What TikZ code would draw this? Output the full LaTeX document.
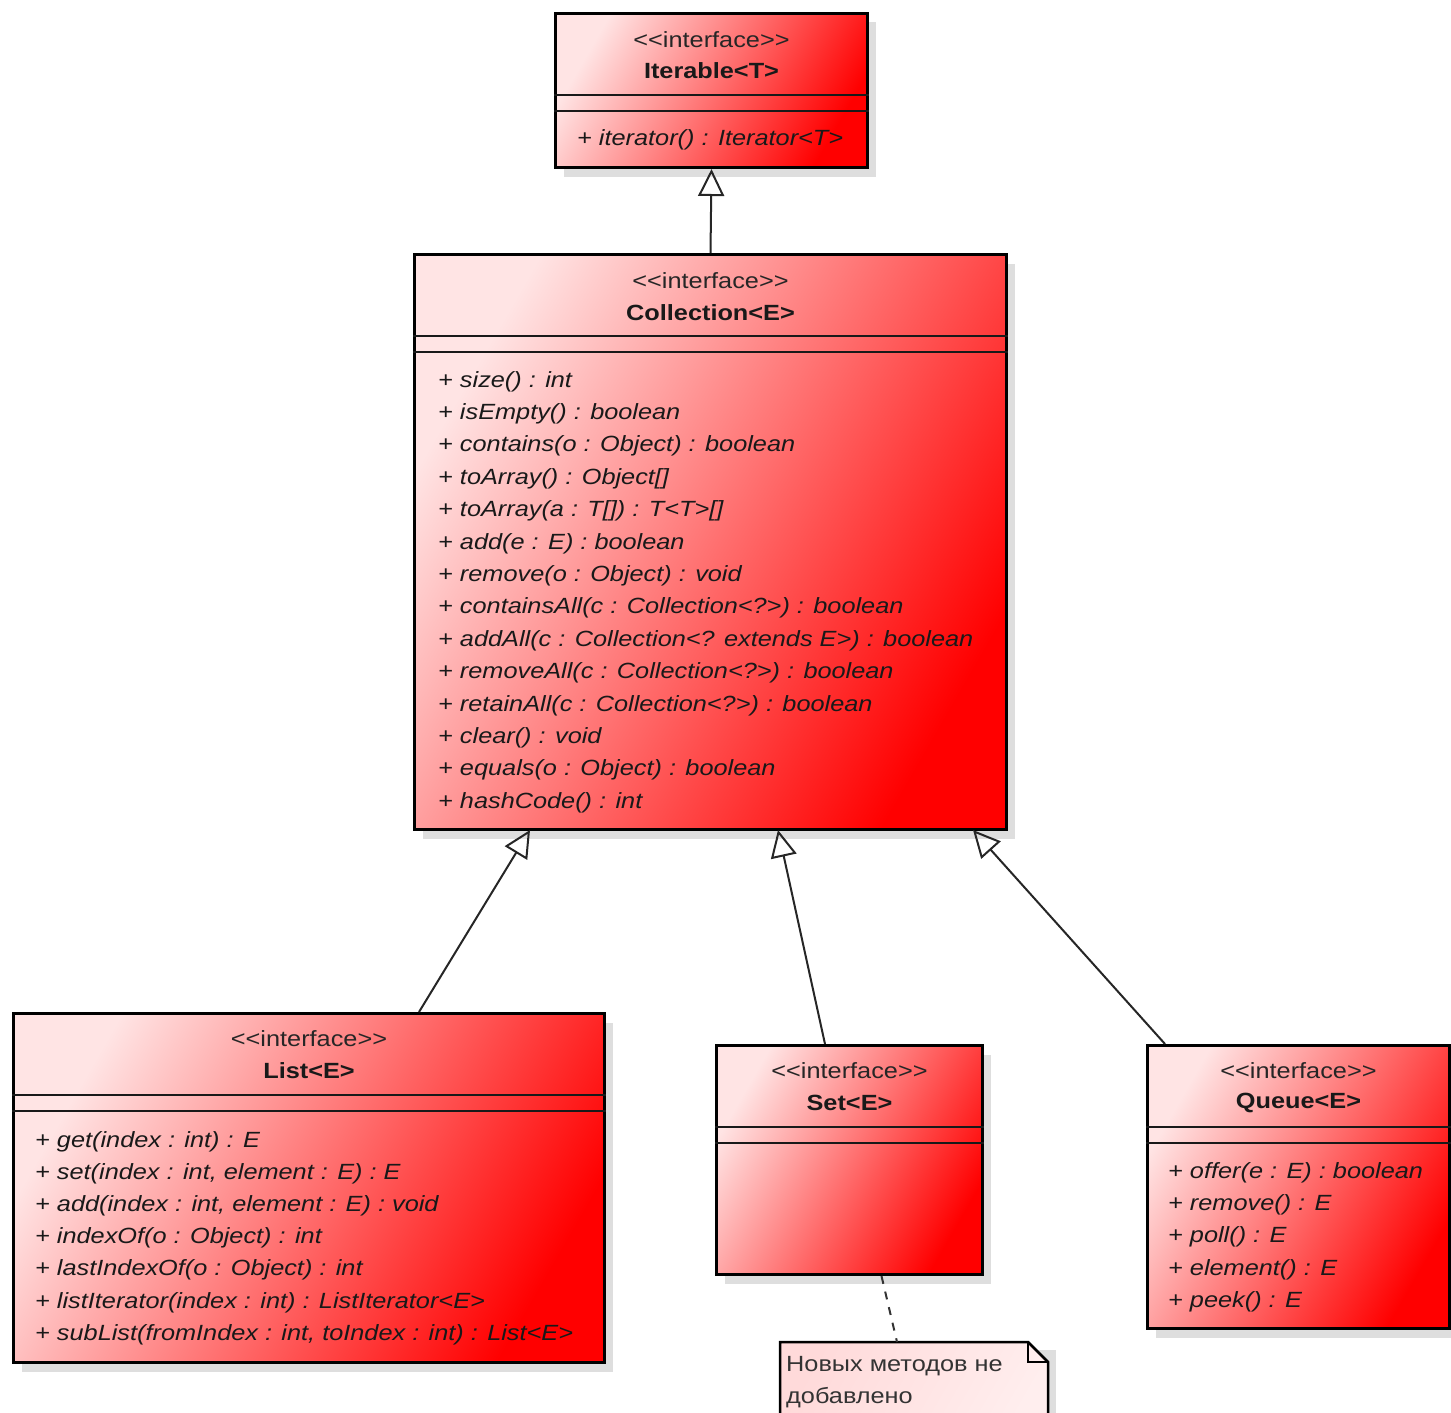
\documentclass[tikz,border=0pt]{standalone}
\usepackage{fontspec}
\setmainfont[FakeStretch=1.15, Ligatures=TeXOff]{Liberation Sans}
\usetikzlibrary{arrows.meta,shadows,calc}
\definecolor{boxlight}{RGB}{255,228,228}
\definecolor{boxmid}{RGB}{250,96,96}
\definecolor{boxred}{RGB}{255,0,0}
\definecolor{notelight}{RGB}{255,218,218}
\definecolor{notepale}{RGB}{255,238,238}
\begin{document}
\begin{tikzpicture}[x=1pt,y=-1pt,
  umlbox/.style={rectangle, draw=black, line width=3pt, inner sep=0pt, anchor=north west,
    left color=boxlight, middle color=boxmid, right color=boxred, shading angle=60,
    drop shadow={shadow xshift=8pt, shadow yshift=-9pt, fill=black!13, opacity=1}},
  sepline/.style={line width=2.5pt, black!90},
  stereo/.style={font=\fontsize{22}{26}\selectfont, text=black!85, inner sep=0pt},
  cname/.style={font=\fontsize{22}{26}\selectfont\bfseries, text=black!90, inner sep=0pt},
  meth/.style={font=\fontsize{22}{26}\selectfont\itshape, text=black!90, inner sep=0pt, anchor=base west},
  notetxt/.style={font=\fontsize{22}{26}\selectfont, text=black!80, inner sep=0pt, anchor=base west},
  gen/.style={line width=2pt, black!85, -{Triangle[open, length=27pt, width=26pt, line width=2pt]}},
  dep/.style={line width=2pt, black!80, dash pattern=on 8pt off 8pt}
]
\useasboundingbox (0,0) rectangle (1451,1413);

% ---------- boxes ----------
\node[umlbox, minimum width=312pt, minimum height=154pt] (iter) at (554,12) {};
\node[umlbox, minimum width=592pt, minimum height=575pt] (coll) at (413,253) {};
\node[umlbox, minimum width=591pt, minimum height=349pt] (list) at (12,1012) {};
\node[umlbox, minimum width=266pt, minimum height=229pt] (set) at (715,1044) {};
\node[umlbox, minimum width=302pt, minimum height=283pt] (queue) at (1146,1044) {};

% ---------- separators ----------
\foreach \b in {iter,coll,list,set,queue}{
  \draw[sepline] ($(\b.north west)+(0,83)$) -- ($(\b.north east)+(0,83)$);
  \draw[sepline] ($(\b.north west)+(0,99)$) -- ($(\b.north east)+(0,99)$);
}

% ---------- headers ----------
\node[stereo] (iter-st) at ($(iter.north)+(0,28)$) {<<interface>>};
\node[cname]  (iter-nm) at ($(iter.north)+(0,59)$) {Iterable<T>};
\node[stereo] (coll-st) at ($(coll.north)+(0,28)$) {<<interface>>};
\node[cname]  (coll-nm) at ($(coll.north)+(0,60)$) {Collection<E>};
\node[stereo] (list-st) at ($(list.north)+(0,27)$) {<<interface>>};
\node[cname]  (list-nm) at ($(list.north)+(0,59)$) {List<E>};
\node[stereo] (set-st) at ($(set.north)+(0,27)$) {<<interface>>};
\node[cname]  (set-nm) at ($(set.north)+(0,59)$) {Set<E>};
\node[stereo] (queue-st) at ($(queue.north)+(0,27)$) {<<interface>>};
\node[cname]  (queue-nm) at ($(queue.north)+(0,59)$) {Queue<E>};

% ---------- methods ----------
\node[meth] (iter-m1) at (577,145) {+ iterator() : Iterator<T>};

\foreach \t [count=\i] in {
  {+ size() : int},
  {+ isEmpty() : boolean},
  {+ contains(o : Object) : boolean},
  {+ toArray() : Object[]},
  {+ toArray(a : T[]) : T<T>[]},
  {+ add(e : E) : boolean},
  {+ remove(o : Object) : void},
  {+ containsAll(c : Collection<?>) : boolean},
  {+ addAll(c : Collection<? extends E>) : boolean},
  {+ removeAll(c : Collection<?>) : boolean},
  {+ retainAll(c : Collection<?>) : boolean},
  {+ clear() : void},
  {+ equals(o : Object) : boolean},
  {+ hashCode() : int}}{
  \node[meth] (coll-m\i) at ({438},{387+(\i-1)*32.4}) {\t};
}

\foreach \t [count=\i] in {
  {+ get(index : int) : E},
  {+ set(index : int, element : E) : E},
  {+ add(index : int, element : E) : void},
  {+ indexOf(o : Object) : int},
  {+ lastIndexOf(o : Object) : int},
  {+ listIterator(index : int) : ListIterator<E>},
  {+ subList(fromIndex : int, toIndex : int) : List<E>}}{
  \node[meth] (list-m\i) at ({35},{1147+(\i-1)*32.2}) {\t};
}

\foreach \t [count=\i] in {
  {+ offer(e : E) : boolean},
  {+ remove() : E},
  {+ poll() : E},
  {+ element() : E},
  {+ peek() : E}}{
  \node[meth] (queue-m\i) at ({1168},{1178+(\i-1)*32.4}) {\t};
}

% ---------- note ----------
\fill[black!13] (788,1350) -- (1056,1350) -- (1056,1440) -- (788,1440) -- cycle;
\path[draw=black, line width=2.5pt, left color=notelight, right color=notepale, shading angle=60]
  (780,1342) -- (1028,1342) -- (1048,1362) -- (1048,1440) -- (780,1440) -- cycle;
\draw[line width=2pt, black] (1028,1342) -- (1028,1362) -- (1048,1362);
\node[notetxt] (note-l1) at (786,1371) {Новых методов не};
\node[notetxt] (note-l2) at (786,1403) {добавлено};
\coordinate (notetop) at (897,1342);
\coordinate (setbot) at ($(set.south)+(32,0)$);

% ---------- connectors ----------
\draw[gen] (coll.north) -- (iter.south);
\coordinate (l1) at (419,1012);
\coordinate (c1) at (530,830);
\coordinate (s1) at (825,1044);
\coordinate (c2) at (778,830);
\coordinate (q1) at (1165,1044);
\coordinate (c3) at (973,830);
\draw[gen] (l1) -- (c1);
\draw[gen] (s1) -- (c2);
\draw[gen] (q1) -- (c3);
\draw[dep] (setbot) -- (notetop);
\end{tikzpicture}
\end{document}
